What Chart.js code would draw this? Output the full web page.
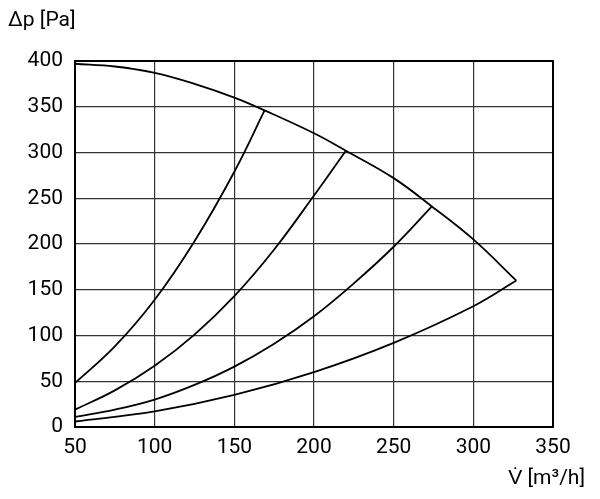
<!DOCTYPE html>
<html>
<head>
<meta charset="utf-8">
<script src="https://cdn.jsdelivr.net/npm/chart.js@4"></script>
<style>
html,body{margin:0;padding:0;background:#fff;}
#wrap{width:600px;height:499px;}
</style>
</head>
<body>
<div id="wrap"><canvas id="c" width="600" height="499"></canvas></div>
<script>
// Tick labels
const xTicks = [50, 100, 150, 200, 250, 300, 350];
const yTicks = [0, 50, 100, 150, 200, 250, 300, 350, 400];
const yTitle = "Δp [Pa]";
const xTitle = "V\u0307 [m³/h]";

// Fan characteristic (max curve)
const maxX = [50, 75, 100, 125, 150, 169, 200, 220, 250, 274, 300, 327];
const maxY = [397, 394, 387, 375, 360, 346, 321, 302, 272, 241, 205, 160];

// System curves
const s1X = [50, 75, 100, 125, 150, 169];
const s1Y = [48, 88, 139, 203, 279, 346];
const s2X = [50, 75, 100, 125, 150, 175, 200, 220];
const s2Y = [19, 40, 67, 101, 143, 194, 253, 302];
const s3X = [50, 75, 100, 125, 150, 175, 200, 225, 250, 274];
const s3Y = [11, 19, 30, 46, 66, 91, 121, 157, 197, 241];
const s4X = [50, 100, 150, 200, 250, 300, 327];
const s4Y = [6, 17, 35, 60, 92, 132, 160];

const toPts = (xs, ys) => xs.map((x, i) => ({x: x, y: ys[i]}));
const FONT = "Roboto, sans-serif";

function ds(xs, ys) {
  return {
    data: toPts(xs, ys),
    borderColor: "#000",
    borderWidth: 1.8,
    pointRadius: 0,
    fill: false,
    tension: 0.4
  };
}

const framePlugin = {
  id: "frame",
  afterDraw(chart) {
    const ctx = chart.ctx;
    const a = chart.chartArea;
    ctx.save();
    ctx.strokeStyle = "#000";
    ctx.lineWidth = 2;
    ctx.strokeRect(a.left, a.top, a.right - a.left, a.bottom - a.top);
    ctx.fillStyle = "#000";
    ctx.font = "21px " + FONT;
    ctx.textBaseline = "middle";
    ctx.textAlign = "left";
    ctx.fillText(yTitle, 8, 21);
    ctx.textAlign = "right";
    ctx.fillText(xTitle, 585, 479);
    ctx.restore();
  }
};

new Chart(document.getElementById("c"), {
  type: "line",
  data: {
    datasets: [ds(maxX, maxY), ds(s1X, s1Y), ds(s2X, s2Y), ds(s3X, s3Y), ds(s4X, s4Y)]
  },
  options: {
    responsive: false,
    animation: false,
    layout: {padding: {left: 0, right: 47, top: 61, bottom: 0}},
    plugins: {legend: {display: false}, tooltip: {enabled: false}},
    scales: {
      x: {
        type: "linear",
        min: xTicks[0],
        max: xTicks[xTicks.length - 1],
        afterBuildTicks(scale) { scale.ticks = xTicks.map(v => ({value: v})); },
        afterFit(scale) { scale.height = 72; },
        grid: {color: "#333", lineWidth: 1.2, drawTicks: false},
        border: {display: false},
        ticks: {color: "#000", font: {family: FONT, size: 21}, padding: 8, maxRotation: 0}
      },
      y: {
        type: "linear",
        min: yTicks[0],
        max: yTicks[yTicks.length - 1],
        afterBuildTicks(scale) { scale.ticks = yTicks.map(v => ({value: v})); },
        afterFit(scale) { scale.width = 75; },
        grid: {color: "#333", lineWidth: 1.2, drawTicks: false},
        border: {display: false},
        ticks: {color: "#000", font: {family: FONT, size: 21}, padding: 12}
      }
    }
  },
  plugins: [framePlugin]
});
</script>
</body>
</html>
